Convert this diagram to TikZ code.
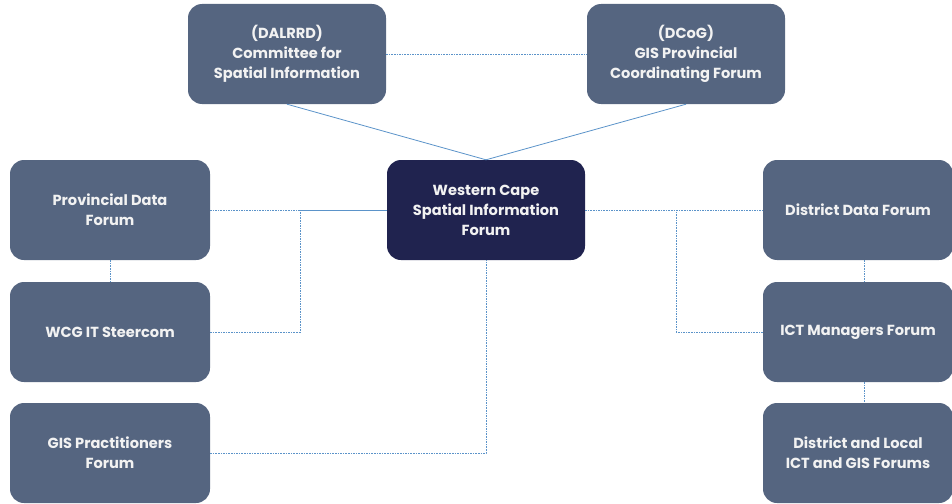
\documentclass[tikz,border=0pt]{standalone}
\usepackage{fontspec}
\setmainfont{Poppins}
\definecolor{boxfill}{HTML}{556580}
\definecolor{navy}{HTML}{20234F}
\definecolor{linkblue}{HTML}{5B93C9}
\definecolor{txt}{HTML}{F2F2F2}
\begin{document}
\begin{tikzpicture}[x=1pt,y=-1pt,
  forum/.style={rectangle, rounded corners=14pt, fill=boxfill, draw=none,
    minimum width=198pt, minimum height=100pt, align=center, text=txt,
    font=\bfseries\fontsize{14.6}{20}\selectfont, inner sep=2pt},
  hub/.style={forum, fill=navy},
  solidlink/.style={draw=linkblue, line width=0.8pt},
  dotlink/.style={draw=linkblue, line width=0.8pt, dash pattern=on 1.6pt off 1pt}]
\useasboundingbox (0,0) rectangle (952,503);
\node[forum] (dal) at (287,54) {(DALRRD)\\Committee for\\Spatial Information};
\node[forum] (dcog) at (686,54) {(DCoG)\\GIS Provincial\\Coordinating Forum};
\node[hub] (wc) at (486,210) {Western Cape\\Spatial Information\\Forum};
\node[forum, minimum width=200pt] (pdf) at (110,210) {Provincial Data\\Forum};
\node[forum, minimum width=200pt] (wcg) at (110,332) {WCG IT Steercom};
\node[forum, minimum width=200pt] (gis) at (110,453) {GIS Practitioners\\Forum};
\node[forum, minimum width=190pt] (ddf) at (858,210) {District Data Forum};
\node[forum, minimum width=190pt] (ict) at (858,332) {ICT Managers Forum};
\node[forum, minimum width=190pt] (dl) at (858,453) {District and Local\\ICT and GIS Forums};
\coordinate (jl) at (300,210);
\coordinate (jr) at (676,210);
% top links
\draw[solidlink] (dal.south) -- (wc.north);
\draw[solidlink] (dcog.south) -- (wc.north);
\draw[dotlink] (dal.east) -- (dcog.west);
% left side
\draw[solidlink] (wc.west) -- (jl);
\draw[dotlink] (jl) -- (pdf.east);
\draw[dotlink] (wcg.east) -| (jl);
\draw[dotlink] (pdf.south) -- (wcg.north);
\draw[dotlink] (gis.east) -| (wc.south);
% right side
\draw[dotlink] (wc.east) -- (ddf.west);
\draw[dotlink] (ict.west) -| (jr);
\draw[dotlink] ([xshift=6pt]ddf.south) -- ([xshift=6pt]ict.north);
\draw[dotlink] ([xshift=6pt]ict.south) -- ([xshift=6pt]dl.north);
\end{tikzpicture}
\end{document}
